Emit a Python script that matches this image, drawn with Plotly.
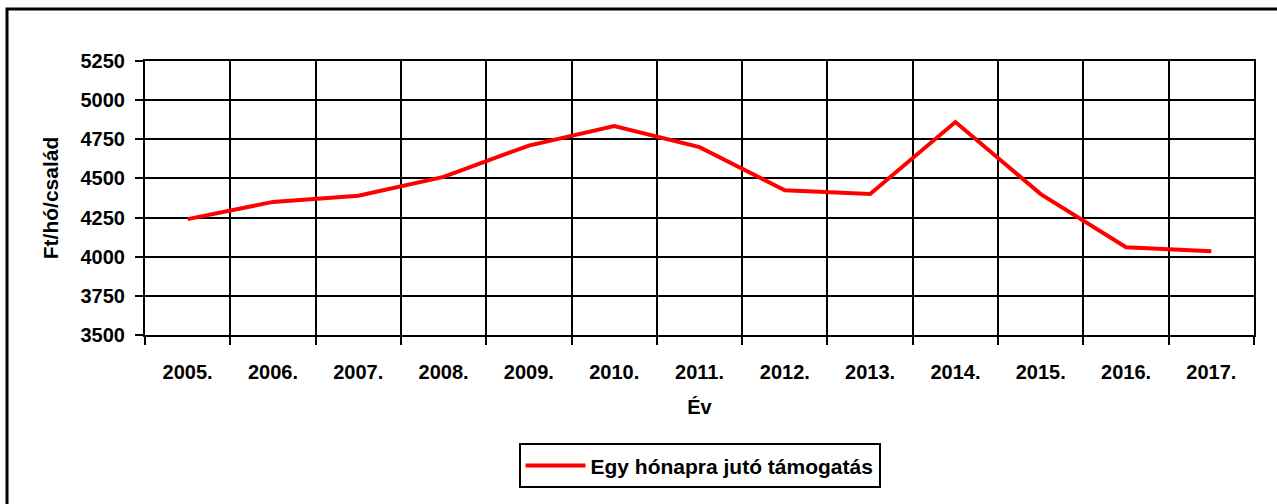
import plotly.graph_objects as go

years = ["2005.", "2006.", "2007.", "2008.", "2009.", "2010.", "2011.",
         "2012.", "2013.", "2014.", "2015.", "2016.", "2017."]
support = [4240, 4350, 4390, 4510, 4710, 4835, 4700, 4425, 4400, 4860, 4400, 4060, 4035]
y_ticks = [3500, 3750, 4000, 4250, 4500, 4750, 5000, 5250]
series_name = "Egy hónapra jutó támogatás"

FONT = "Liberation Sans, Arial, sans-serif"

fig = go.Figure()
fig.add_trace(go.Scatter(
    x=years, y=support, mode="lines", name=series_name,
    line=dict(color="#FF0000", width=4),
))

fig.update_layout(
    width=1277, height=504,
    margin=dict(l=145, r=23, t=61, b=169),
    paper_bgcolor="white", plot_bgcolor="white",
    font=dict(family=FONT, color="black", size=20, weight="bold"),
    showlegend=True,
    legend=dict(
        orientation="h", x=0.5, xanchor="center", y=-0.478, yanchor="middle",
        bordercolor="black", borderwidth=2, bgcolor="white", itemwidth=60,
        font=dict(family=FONT, size=21, color="black", weight="bold"),
    ),
    xaxis=dict(
        type="category", tickson="boundaries", range=[-0.5, len(years) - 0.5],
        showgrid=True, gridcolor="black", gridwidth=2,
        showline=True, linecolor="black", linewidth=2, mirror=True,
        ticks="outside", ticklen=8, tickwidth=2, tickcolor="black",
        ticklabelstandoff=18,
        tickfont=dict(family=FONT, size=20, weight="bold"),
        title=dict(text="Év", font=dict(family=FONT, size=20, weight="bold"), standoff=18),
        automargin=False,
    ),
    yaxis=dict(
        range=[3500, 5250], tickvals=y_ticks,
        showgrid=True, gridcolor="black", gridwidth=2,
        showline=True, linecolor="black", linewidth=2, mirror=True,
        ticks="outside", ticklen=8, tickwidth=2, tickcolor="black",
        ticklabelstandoff=6,
        tickfont=dict(family=FONT, size=20, weight="bold"),
        title=dict(text="Ft/hó/család", font=dict(family=FONT, size=21, weight="bold"), standoff=16),
        zeroline=False, automargin=False,
    ),
    shapes=[dict(
        type="rect", xref="paper", yref="paper",
        x0=(7 - 145) / 1109, x1=1.05, y0=-1.0, y1=(335 - 9) / 274,
        line=dict(color="black", width=3), layer="above",
    )],
)

fig.write_html("out.html", config={"displayModeBar": False},
               post_script="document.body.style.margin='0px';")
